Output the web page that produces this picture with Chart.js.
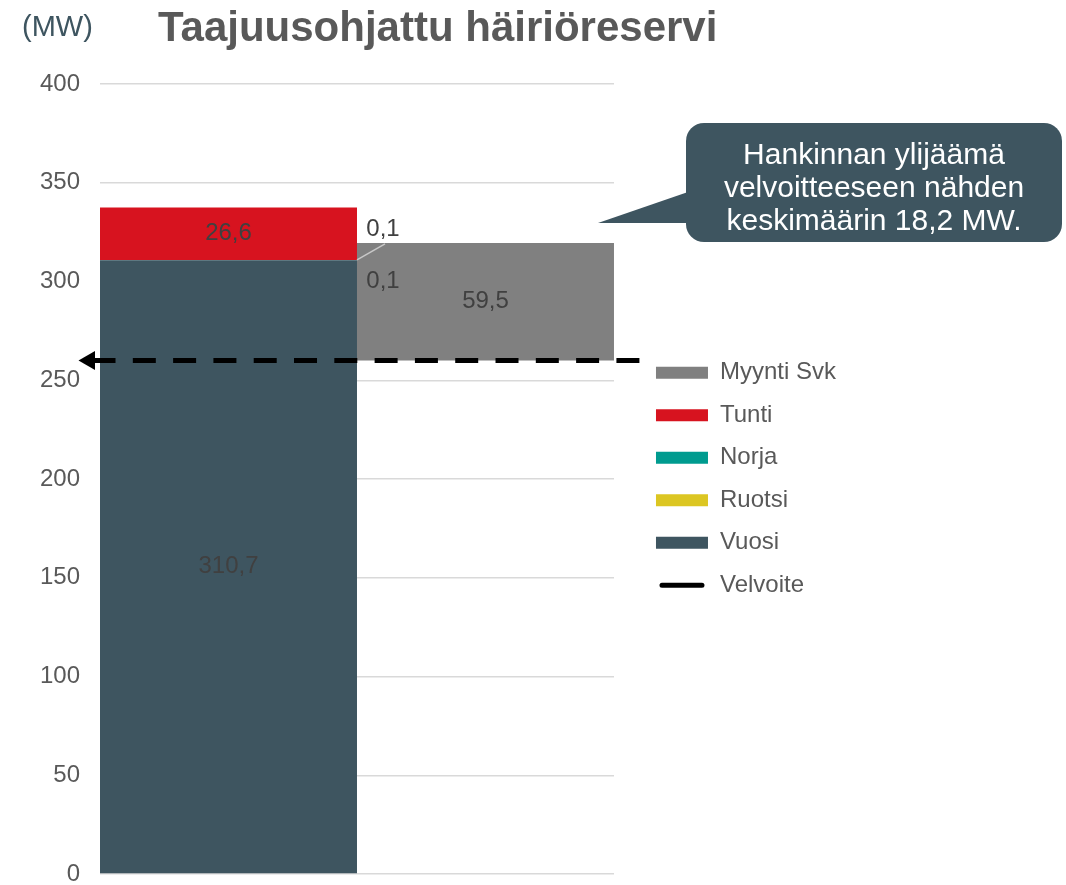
<!DOCTYPE html>
<html>
<head>
<meta charset="utf-8">
<title>Taajuusohjattu häiriöreservi</title>
<script src="https://cdn.jsdelivr.net/npm/chart.js@4"></script>
<style>
    body { margin: 0; background: #fff; }
    #wrap { width: 1066px; height: 885px; position: relative; }
</style>
</head>
<body>
<div id="wrap"><canvas id="chart"></canvas></div>
<script>
// ===== DATA =====
const categories = ["", ""];
const myyntiBase = [null, 260];      // invisible part under the Svk sale
const vuosi = [310.7, null];
const ruotsi = [0.1, null];
const norja = [0.1, null];
const tunti = [26.6, null];
const myyntiSvk = [null, 59.5];
const velvoite = 260;

const yTicks = [0, 50, 100, 150, 200, 250, 300, 350, 400];

const titleText = "Taajuusohjattu häiriöreservi";
const unitText = "(MW)";
const calloutLines = ["Hankinnan ylijäämä", "velvoitteeseen nähden", "keskimäärin 18,2 MW."];

// ===== STYLE =====
const FONT = "'Liberation Sans', Arial, sans-serif";
const SLATE = "#3e5560";
const TEXT = "#595959";
const LABEL = "#404040";

// how far the dashed line reaches past the plot, in units of the hidden 0..1 axis
const lineReach = [-0.0204, 1.05];

const fmt = (v) => v.toFixed(1).replace(".", ",");

// ===== PLUGINS =====
// value labels; tiny segments get their label pushed to the side
const labelOffsets = {
    Norja: { dx: 26, dy: -31, leader: true },
    Ruotsi: { dx: 26, dy: 21 },
};

const valueLabels = {
    id: "valueLabels",
    afterDatasetsDraw(chart) {
        const { ctx } = chart;
        ctx.save();
        ctx.font = "24px " + FONT;
        ctx.fillStyle = LABEL;
        ctx.textAlign = "center";
        ctx.textBaseline = "middle";
        chart.data.datasets.forEach((ds, di) => {
            if (ds.type === "line" || ds.label === "base") return;
            const meta = chart.getDatasetMeta(di);
            meta.data.forEach((bar, i) => {
                const v = ds.data[i];
                if (!v) return;
                const off = labelOffsets[ds.label];
                if (off) {
                    const right = bar.x + bar.width / 2;
                    const lx = right + off.dx;
                    const ly = bar.y + off.dy;
                    if (off.leader) {
                        ctx.save();
                        ctx.strokeStyle = "#c8c8c8";
                        ctx.lineWidth = 1.5;
                        ctx.beginPath();
                        ctx.moveTo(right, bar.y);
                        ctx.lineTo(lx + 2, ly + 15);
                        ctx.stroke();
                        ctx.restore();
                    }
                    ctx.fillText(fmt(v), lx, ly);
                } else {
                    ctx.fillText(fmt(v), bar.x, (bar.y + bar.base) / 2);
                }
            });
        });
        ctx.restore();
    },
};

const headerAndCallout = {
    id: "headerAndCallout",
    afterDraw(chart) {
        const { ctx } = chart;
        ctx.save();
        // unit + title
        ctx.textBaseline = "alphabetic";
        ctx.textAlign = "left";
        ctx.fillStyle = SLATE;
        ctx.font = "29px " + FONT;
        ctx.fillText(unitText, 22, 36);
        ctx.fillStyle = TEXT;
        ctx.font = "bold 42px " + FONT;
        ctx.fillText(titleText, 158, 41);

        // callout bubble with tail
        const bx = 686, by = 123, bw = 376, bh = 119, r = 18;
        ctx.fillStyle = SLATE;
        ctx.beginPath();
        ctx.roundRect(bx, by, bw, bh, r);
        ctx.fill();
        ctx.beginPath();
        ctx.moveTo(598, 223);
        ctx.lineTo(bx + 2, 192);
        ctx.lineTo(bx + 2, 223);
        ctx.closePath();
        ctx.fill();

        ctx.fillStyle = "#fff";
        ctx.font = "30px " + FONT;
        ctx.textAlign = "center";
        calloutLines.forEach((line, i) => {
            ctx.fillText(line, bx + bw / 2, 164 + i * 33);
        });
        ctx.restore();
    },
};

// ===== CHART =====
const legendRank = (item) => (item.text === "Velvoite" ? 99 : -item.datasetIndex);

const barSet = (label, data, color) => ({
    label, data, backgroundColor: color, xAxisID: "x", yAxisID: "y", stack: "s",
});

const chart = new Chart(document.getElementById("chart"), {
    type: "bar",
    data: {
        labels: categories,
        datasets: [
            barSet("base", myyntiBase, "rgba(0,0,0,0)"),
            barSet("Vuosi", vuosi, SLATE),
            barSet("Ruotsi", ruotsi, "#dcc622"),
            barSet("Norja", norja, "#009b8f"),
            barSet("Tunti", tunti, "#d7131f"),
            barSet("Myynti Svk", myyntiSvk, "#808080"),
            {
                type: "line",
                label: "Velvoite",
                xAxisID: "xv",
                yAxisID: "y",
                data: [
                    { x: lineReach[0], y: velvoite },
                    { x: lineReach[1], y: velvoite },
                ],
                borderColor: "#000",
                backgroundColor: "#000",
                borderWidth: 5,
                borderDash: [23, 17.3],
                borderDashOffset: 37.3,
                pointStyle: (c) => (c.dataIndex === 0 ? "triangle" : false),
                pointRadius: [11, 0],
                pointHoverRadius: [11, 0],
                pointRotation: 270,
                pointBorderWidth: 0,
                pointBackgroundColor: "#000",
                clip: false,
                order: -1,
            },
        ],
    },
    options: {
        responsive: true,
        maintainAspectRatio: false,
        animation: false,
        events: [],
        datasets: {
            bar: {
                barPercentage: 1,
                categoryPercentage: 1,
                borderWidth: 0,
                grouped: false,
                inflateAmount: 0,
            },
        },
        layout: { padding: { left: 0, right: 220, top: 84, bottom: 11 } },
        scales: {
            x: { type: "category", stacked: true, display: false, offset: true },
            xv: { type: "linear", min: 0, max: 1, display: false, offset: false },
            y: {
                stacked: true,
                min: 0,
                max: 400,
                afterBuildTicks: (s) => { s.ticks = yTicks.map((v) => ({ value: v })); },
                afterFit: (s) => { s.width = 100; s.paddingTop = 0; s.paddingBottom = 0; },
                ticks: { color: TEXT, padding: 20, font: { family: FONT, size: 24 } },
                grid: { color: "#d9d9d9", lineWidth: 1.5, drawTicks: false },
                border: { display: false },
            },
            yr: {
                type: "linear",
                position: "right",
                grid: { display: false },
                border: { display: false },
                ticks: { display: false },
                afterFit: (s) => { s.width = 23.5; },
            },
        },
        plugins: {
            tooltip: { enabled: false },
            title: { display: false },
            legend: {
                position: "right",
                align: "center",
                fullSize: false,
                maxWidth: 400,
                labels: {
                    boxWidth: 52,
                    boxHeight: 12,
                    padding: 18.5,
                    color: TEXT,
                    font: { family: FONT, size: 24 },
                    filter: (item) => item.text !== "base",
                    sort: (a, b) => legendRank(a) - legendRank(b),
                    generateLabels: (c) => {
                        const items = Chart.defaults.plugins.legend.labels.generateLabels(c);
                        items.forEach((it) => {
                            if (it.text === "Velvoite") {
                                // draw as a short rounded line instead of a box
                                it.fillStyle = "#000";
                                it.strokeStyle = "#fff";
                                it.lineWidth = 7;
                                it.lineDash = [];
                                it.borderRadius = 6;
                            } else {
                                it.lineWidth = 0;
                            }
                        });
                        return items;
                    },
                },
            },
        },
    },
    plugins: [valueLabels, headerAndCallout],
});
</script>
</body>
</html>
